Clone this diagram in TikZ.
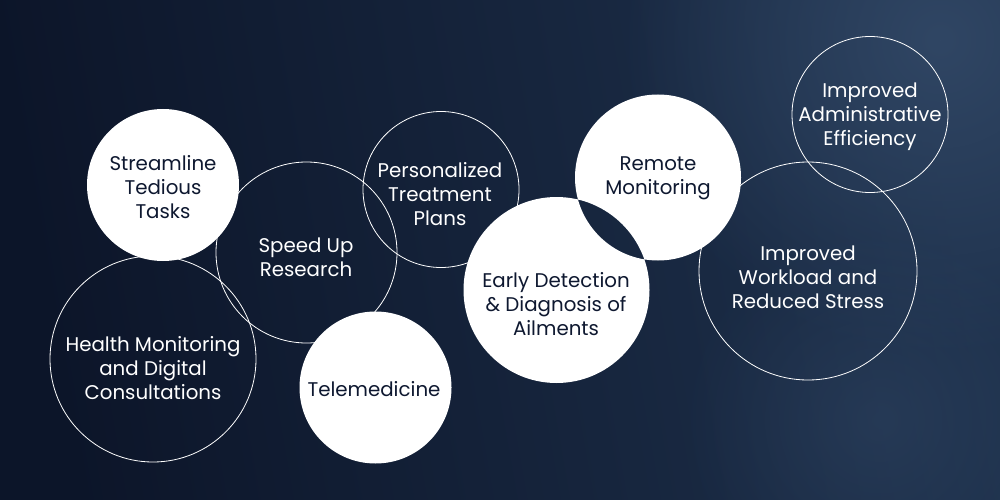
\documentclass[tikz,border=0pt]{standalone}
\usepackage{fontspec}
\setmainfont{Poppins}
\usetikzlibrary{fadings}
\tikzfading[name=glowfade, inner color=transparent!0, outer color=transparent!100]
\definecolor{bgL}{RGB}{12,21,41}
\definecolor{bgR}{RGB}{30,49,76}
\definecolor{glow}{RGB}{48,70,100}
\definecolor{ink}{RGB}{14,24,48}
\tikzset{
  ring/.style={circle, draw=white, line width=0.8pt, minimum size=#1, inner sep=0pt},
  disc/.style={circle, minimum size=#1, inner sep=0pt},
  wtxt/.style={align=center, text=white, inner sep=0pt, font=\fontsize{19.8}{24}\selectfont},
  dtxt/.style={align=center, text=ink, inner sep=0pt, font=\fontsize{19.8}{24}\selectfont}
}
\begin{document}
\begin{tikzpicture}[x=1pt,y=-1pt]
\useasboundingbox (0,0) rectangle (1000,500);
% background
\shade[left color=bgL, right color=bgR, shading angle=100] (0,0) rectangle (1000,500);
\fill[glow, path fading=glowfade] (940,40) circle (320);
\fill[glow, opacity=0.5, path fading=glowfade] (880,420) circle (200);
% outlined circles
\node[ring=156pt] (cpers) at (441,189.5) {};
\node[ring=181pt] (cspeed) at (306.5,252.5) {};
\node[ring=206pt] (chealth) at (153,359) {};
\node[ring=218pt] (cwork) at (808,271) {};
\node[ring=156pt] (cadmin) at (870,114.5) {};
% white discs
\node[disc=152pt] (cstream) at (163,185) {};
\node[disc=152pt] (ctele) at (375.5,387.5) {};
\node[disc=186pt] (cearly) at (556.5,290) {};
\node[disc=166pt] (cremote) at (658,177.5) {};
\fill[white] (cstream.center) circle (76);
\fill[white] (ctele.center) circle (76);
\fill[white, even odd rule] (cearly.center) circle (93) (cremote.center) circle (83);
% texts
\node[dtxt] (tstream) at (163,187) {Streamline\\Tedious\\Tasks};
\node[wtxt] (tspeed) at (306,257) {Speed Up\\Research};
\node[wtxt] (tpers) at (440,194) {Personalized\\Treatment\\Plans};
\node[wtxt] (thealth) at (153,368) {Health Monitoring\\and Digital\\Consultations};
\node[dtxt] (ttele) at (374,389) {Telemedicine};
\node[dtxt] (tearly) at (556,304) {Early Detection\\\& Diagnosis of\\Ailments};
\node[dtxt] (tremote) at (658,178) {Remote\\Monitoring};
\node[wtxt] (twork) at (808,277) {Improved\\Workload and\\Reduced Stress};
\node[wtxt] (tadmin) at (870,116.5) {Improved\\Administrative\\Efficiency};
\end{tikzpicture}
\end{document}
